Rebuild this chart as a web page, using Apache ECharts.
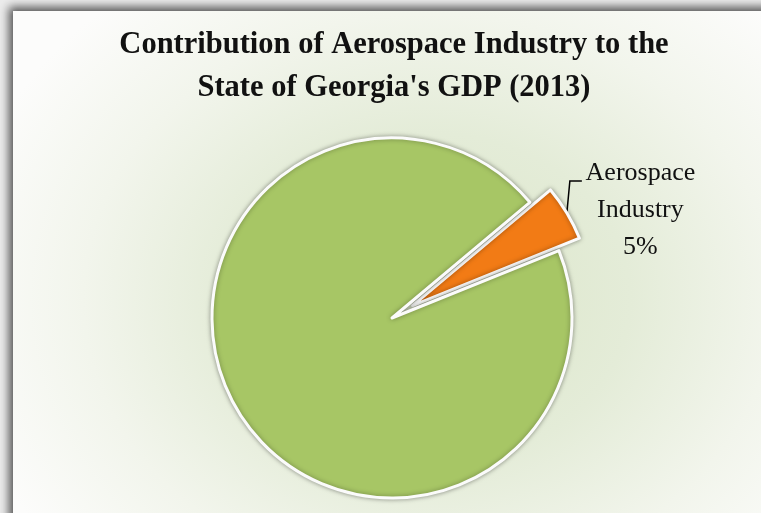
<!DOCTYPE html>
<html>
<head>
<meta charset="utf-8">
<script src="https://cdn.jsdelivr.net/npm/echarts@6/dist/echarts.min.js"></script>
<style>
    html, body {
        margin: 0;
        padding: 0;
        background: #ececec;
        overflow: hidden;
    }
    .frame {
        position: absolute;
        left: 13px;
        top: 11px;
        width: 800px;
        height: 600px;
        background: radial-gradient(ellipse 60% 66% at 52% 48%, #dae5c7 0%, #e4ecd8 42%, #f2f5ec 72%, #fcfcfb 100%);
        box-shadow: -3px -3px 9px 1px rgba(0, 0, 0, 0.65);
    }
    #main {
        position: absolute;
        left: 0;
        top: 0;
        width: 761px;
        height: 513px;
    }
</style>
</head>
<body>
<div class="frame"></div>
<div id="main"></div>
<script>
    // data
    const titleLines = ['Contribution of Aerospace Industry to the', "State of Georgia's GDP (2013)"];
    const categories = ['Aerospace Industry', 'Rest of GDP'];
    const shares = [5, 95];
    const colors = ['#f27b15', '#a7c665'];

    const chart = echarts.init(document.getElementById('main'));

    const option = {
        animation: false,
        title: {
            text: titleLines.join('\n'),
            left: 389,
            textAlign: 'center',
            top: 19,
            textStyle: {
                fontFamily: 'Liberation Serif',
                fontWeight: 'bold',
                fontSize: 30.5,
                lineHeight: 43,
                color: '#111111',
            },
        },
        series: [
            {
                type: 'pie',
                center: [392, 318],
                radius: 180,
                startAngle: 40,
                selectedMode: 'single',
                selectedOffset: 24,
                data: categories.map((name, i) => ({
                    name: name,
                    value: shares[i],
                    selected: i === 0,
                    itemStyle: { color: colors[i] },
                    label: { show: i === 0 },
                    labelLine: { show: i === 0 },
                })),
                itemStyle: {
                    borderColor: '#fbfbfb',
                    borderWidth: 3,
                    shadowBlur: 5,
                    shadowColor: 'rgba(0,0,0,0.35)',
                },
                label: {
                    position: 'outside',
                    padding: [10, 0, 0, 0],
                    formatter: (p) => {
                        const words = p.name.split(' ');
                        return words.map((w) => '{a|' + w + '}').join('\n') + '\n{a|' + p.value + '%}';
                    },
                    rich: {
                        a: {
                            align: 'center',
                            fontFamily: 'Liberation Serif',
                            fontSize: 26,
                            lineHeight: 37,
                            color: '#111111',
                        },
                    },
                },
                labelLine: {
                    length: 16,
                    length2: 0,
                    lineStyle: {
                        color: '#000000',
                        width: 1.5,
                    },
                },
                // bend the leader line up towards the first text line, as in the picture
                labelLayout: (params) => {
                    const pts = params.labelLinePoints;
                    if (!pts) return {};
                    const a = pts[0];
                    const b = [a[0] + 3, a[1] - 32];
                    const c = [b[0] + 12, b[1]];
                    return {
                        labelLinePoints: [a, b, c],
                        align: 'left',
                        verticalAlign: 'middle',
                    };
                },
                emphasis: { disabled: true },
            },
        ],
    };

    chart.setOption(option);
</script>
</body>
</html>
